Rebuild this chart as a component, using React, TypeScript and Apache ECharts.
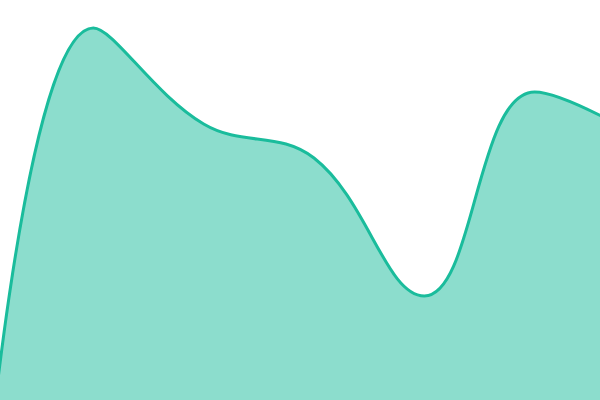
import { useEffect, useRef } from "react";
import * as echarts from "echarts";

const categories = ["1", "2", "3", "4", "5", "6", "7"];
const values = [-20, 472, 376, 342, 204, 408, 360];

const LINE_COLOR = "#1abc9c";

export default function App() {
  const containerRef = useRef<HTMLDivElement | null>(null);

  useEffect(() => {
    const container = containerRef.current;

    if (!container) {
      return;
    }

    const chart = echarts.init(container, null, { renderer: "svg" });

    chart.setOption({
      animation: false,
      grid: { left: 0, right: 0, top: 0, bottom: 0 },
      xAxis: {
        type: "category",
        boundaryGap: false,
        data: categories,
        show: false,
      },
      yAxis: {
        type: "value",
        min: 0,
        max: 500,
        show: false,
      },
      series: [
        {
          type: "line",
          data: values,
          smooth: 0.4,
          symbol: "none",
          clip: false,
          lineStyle: { color: LINE_COLOR, width: 3 },
          areaStyle: { color: LINE_COLOR, opacity: 0.5 },
        },
      ],
    });

    return () => {
      chart.dispose();
    };
  }, []);

  // the plot runs past the visible window on the left, right and bottom
  return (
    <div
      style={{
        position: "fixed",
        left: 0,
        top: 0,
        width: 600,
        height: 400,
        overflow: "hidden",
      }}
    >
      <div
        ref={containerRef}
        style={{ position: "absolute", left: -17, top: 0, width: 662, height: 500 }}
      />
    </div>
  );
}
